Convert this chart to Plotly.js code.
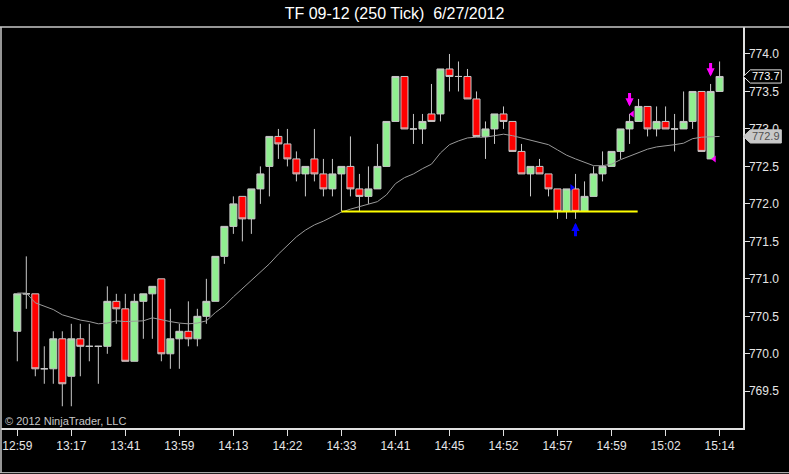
<!DOCTYPE html>
<html>
<head>
<meta charset="utf-8">
<script src="https://cdn.plot.ly/plotly-3.0.1.min.js"></script>
<style>html,body{margin:0;padding:0;background:#000;}#chart{width:789px;height:474px;}</style>
</head>
<body>
<div id="chart"></div>
<script>
var tickBars = [0, 6, 12, 18, 24, 30, 36, 42, 48, 54, 60, 66, 72, 78];
var tickLabels = ["12:59","13:17","13:41","13:59","14:13","14:22","14:33","14:41","14:45","14:52","14:57","14:59","15:02","15:14"];

var openP = [770.3,770.8,770.8,769.8,769.8,770.2,769.7,770.2,770.1,770.1,
             770.1,770.7,770.6,769.9,770.7,770.8,771.0,770.0,770.2,770.3,
             770.2,770.5,770.7,771.3,771.7,772.1,771.8,772.2,772.5,772.9,
             772.8,772.6,772.4,772.6,772.4,772.2,772.4,772.5,772.2,772.1,
             772.2,772.5,773.1,773.7,773.0,773.0,773.2,773.2,773.8,773.7,
             773.7,773.4,772.9,773.0,773.2,773.1,772.7,772.4,772.5,772.4,
             772.2,771.9,772.2,771.9,772.1,772.4,772.5,772.7,773.0,773.1,
             773.3,773.0,773.1,773.0,773.0,773.1,773.5,772.6,773.5];
var highP = [770.8,771.3,770.8,770.1,770.3,770.3,770.4,770.4,770.4,770.1,
             770.9,770.8,770.8,770.8,770.8,770.9,771.0,770.6,770.4,770.7,
             770.6,771.0,771.3,771.7,772.1,772.1,772.2,772.5,772.9,773.0,
             773.0,772.7,772.5,773.0,772.6,772.6,772.5,772.9,772.4,772.5,
             772.8,773.1,773.7,773.7,773.2,773.2,773.6,773.8,774.0,773.9,
             773.8,773.5,773.1,773.2,773.3,773.1,772.8,772.5,772.6,772.4,
             772.2,772.2,772.4,772.3,772.5,772.7,772.7,773.0,773.2,773.4,
             773.3,773.3,773.3,773.2,773.5,773.5,773.5,773.6,773.9];
var lowP = [769.9,770.6,769.7,769.6,769.6,769.3,769.3,769.7,769.9,769.6,
            770.0,770.4,769.9,769.9,770.2,770.2,769.9,769.8,769.8,770.1,
            770.1,770.4,770.7,771.2,771.6,771.5,771.6,772.0,772.1,772.6,
            772.5,772.3,772.1,772.3,772.1,772.1,771.9,772.1,771.9,772.0,
            772.2,772.5,773.1,773.0,772.8,772.8,773.1,773.1,773.5,773.5,
            773.4,772.9,772.6,772.8,773.0,772.7,772.4,772.1,772.4,772.1,
            771.8,771.8,771.8,771.9,772.1,772.3,772.5,772.6,772.8,773.1,
            772.9,772.9,773.0,772.7,773.0,773.0,772.7,772.6,773.5];
var closeP = [770.8,770.8,769.8,769.8,770.2,769.6,770.2,770.1,770.1,770.1,
              770.7,770.6,769.9,770.7,770.8,770.9,770.0,770.2,770.3,770.2,
              770.5,770.7,771.3,771.7,772.0,771.8,772.2,772.4,772.9,772.8,
              772.6,772.4,772.5,772.4,772.2,772.4,772.5,772.2,772.1,772.2,
              772.5,773.1,773.7,773.0,773.0,773.1,773.1,773.8,773.7,773.7,
              773.4,772.9,773.0,773.2,773.1,772.7,772.4,772.5,772.4,772.2,
              771.9,772.2,771.9,772.1,772.4,772.5,772.7,773.0,773.1,773.3,
              773.0,773.1,773.0,773.0,773.1,773.5,772.7,773.5,773.7];
var smaP = [770.81,770.81,770.68,770.63,770.59,770.52,770.48,770.45,770.43,770.40,
            770.41,770.44,770.43,770.43,770.44,770.48,770.45,770.43,770.41,770.40,
            770.41,770.44,770.55,770.64,770.76,770.87,770.99,771.09,771.20,771.33,
            771.45,771.56,771.65,771.72,771.77,771.83,771.89,771.93,771.96,771.99,
            772.03,772.12,772.27,772.35,772.40,772.47,772.53,772.68,772.79,772.84,
            772.88,772.89,772.89,772.91,772.93,772.91,772.88,772.85,772.83,772.79,
            772.72,772.65,772.60,772.55,772.51,772.51,772.53,772.59,772.64,772.69,
            772.73,772.76,772.77,772.79,772.81,772.87,772.89,772.89,772.90];

var supportLevel = 771.9, supportFrom = 36, supportTo = 68.9;
var buyArrowBar = [62], buyArrowPrice = [771.75];
var sellArrowBar = [68, 77], sellArrowPrice = [773.30, 773.70];
var buyTriBar = [61.6], buyTriPrice = [772.22];
var sellTriBar = [68.3, 77.4], sellTriPrice = [773.2, 772.6];
var lastPrice = 773.7, smaLast = 772.9;

var bars = closeP.map(function(_, i){ return i; });
var FONT = 'Liberation Sans, Arial, sans-serif';

var candle = {
  type: 'candlestick', x: bars, open: openP, high: highP, low: lowP, close: closeP,
  increasing: {fillcolor: '#90EE90', line: {color: '#C8C8C8', width: 1}},
  decreasing: {fillcolor: '#FF0000', line: {color: '#C8C8C8', width: 1}},
  whiskerwidth: 0, hoverinfo: 'skip', showlegend: false
};
var sma = {type: 'scatter', mode: 'lines', x: bars, y: smaP,
  line: {color: '#9A9A9A', width: 1}, hoverinfo: 'skip', showlegend: false};
var buyTri = {type: 'scatter', mode: 'markers', x: buyTriBar, y: buyTriPrice,
  marker: {symbol: 'triangle-right', size: 6, color: '#0000FF'}, showlegend: false, hoverinfo: 'skip'};
var sellTri = {type: 'scatter', mode: 'markers', x: sellTriBar, y: sellTriPrice,
  marker: {symbol: 'triangle-left', size: 6, color: '#FF00FF'}, showlegend: false, hoverinfo: 'skip'};

var L = 1, PW = 741.7, T = 27, PH = 401.3;
function px(p){ return (p - L) / PW; }
function py(p){ return (T + PH - p) / PH; }

function tag(price, fill, line){
  var h = 0.088;
  var x0 = px(743), x1 = px(750), x2 = px(781);
  return {type: 'path', xref: 'paper', yref: 'y', layer: 'above',
    path: 'M' + x0 + ',' + price + ' L' + x1 + ',' + (price + h) + ' L' + x2 + ',' + (price + h) +
          ' L' + x2 + ',' + (price - h) + ' L' + x1 + ',' + (price - h) + ' Z',
    fillcolor: fill, line: {color: line, width: 1}};
}

var shapes = [
  {type: 'line', xref: 'x', yref: 'y', x0: supportFrom, x1: supportTo, y0: supportLevel, y1: supportLevel,
   line: {color: '#FFFF00', width: 2}},
  {type: 'line', xref: 'paper', yref: 'paper', x0: px(0), x1: px(789), y0: 1, y1: 1, line: {color: '#C8C8C8', width: 1.5}},
  {type: 'line', xref: 'paper', yref: 'paper', x0: 0, x1: 0, y0: 1, y1: py(473), line: {color: '#C8C8C8', width: 1.5}},
  {type: 'line', xref: 'paper', yref: 'paper', x0: px(0), x1: px(789), y0: py(473), y1: py(473), line: {color: '#C8C8C8', width: 1}},
  tag(lastPrice, '#000000', '#E0E0E0'),
  tag(smaLast, '#C8C8C8', '#C8C8C8')
];

var annotations = [
  {xref: 'paper', yref: 'paper', x: px(3), y: py(421), xanchor: 'left', yanchor: 'middle', showarrow: false,
   text: '\u00a9 2012 NinjaTrader, LLC', font: {family: FONT, size: 11, color: '#C8C8C8'}},
  {xref: 'paper', yref: 'y', x: px(765.5), y: lastPrice, showarrow: false, xanchor: 'center', yanchor: 'middle',
   text: lastPrice.toFixed(1), font: {family: FONT, size: 11, color: '#FFFFFF'}},
  {xref: 'paper', yref: 'y', x: px(765.5), y: smaLast, showarrow: false, xanchor: 'center', yanchor: 'middle',
   text: smaLast.toFixed(1), font: {family: FONT, size: 11, color: '#505050'}}
];
buyArrowBar.forEach(function(b, i){
  annotations.push({x: b, y: buyArrowPrice[i], xref: 'x', yref: 'y', ax: 0, ay: 15, text: '',
    showarrow: true, arrowhead: 2, arrowsize: 0.55, arrowwidth: 3, arrowcolor: '#0000FF'});
});
sellArrowBar.forEach(function(b, i){
  annotations.push({x: b, y: sellArrowPrice[i], xref: 'x', yref: 'y', ax: 0, ay: -15, text: '',
    showarrow: true, arrowhead: 2, arrowsize: 0.55, arrowwidth: 3, arrowcolor: '#FF00FF'});
});

var layout = {
  width: 789, height: 474,
  paper_bgcolor: '#000000', plot_bgcolor: '#000000',
  margin: {l: 1, r: 789 - 1 - PW, t: T, b: 474 - T - PH, pad: 0},
  font: {family: FONT, color: '#E6E6E6', size: 12},
  title: {text: 'TF 09-12 (250 Tick) \u00a06/27/2012', xref: 'container', x: 0.5, xanchor: 'center',
          yref: 'container', y: 1 - 13/474, yanchor: 'middle',
          font: {family: FONT, size: 16, color: '#FFFFFF'}},
  showlegend: false,
  boxgap: 0.22, boxgroupgap: 0,
  xaxis: {type: 'linear', range: [-1.81, 80.6], tickmode: 'array', tickvals: tickBars, ticktext: tickLabels,
          ticks: 'outside', ticklen: 6, tickcolor: '#E0E0E0', showgrid: false, zeroline: false,
          showline: true, linecolor: '#E0E0E0', linewidth: 1.5, rangeslider: {visible: false},
          tickfont: {size: 12, color: '#E6E6E6'}, fixedrange: true},
  yaxis: {side: 'right', range: [769.01, 774.36], dtick: 0.5, tick0: 769.5, tickformat: '.1f',
          ticks: 'outside', ticklen: 5, tickcolor: '#E0E0E0', showgrid: false, zeroline: false,
          showline: true, linecolor: '#E0E0E0', linewidth: 1.5, ticklabelstandoff: -3,
          tickfont: {size: 12, color: '#E6E6E6'}, fixedrange: true},
  shapes: shapes,
  annotations: annotations
};

Plotly.newPlot('chart', [sma, candle, buyTri, sellTri], layout, {displayModeBar: false, staticPlot: true});
</script>
</body>
</html>
